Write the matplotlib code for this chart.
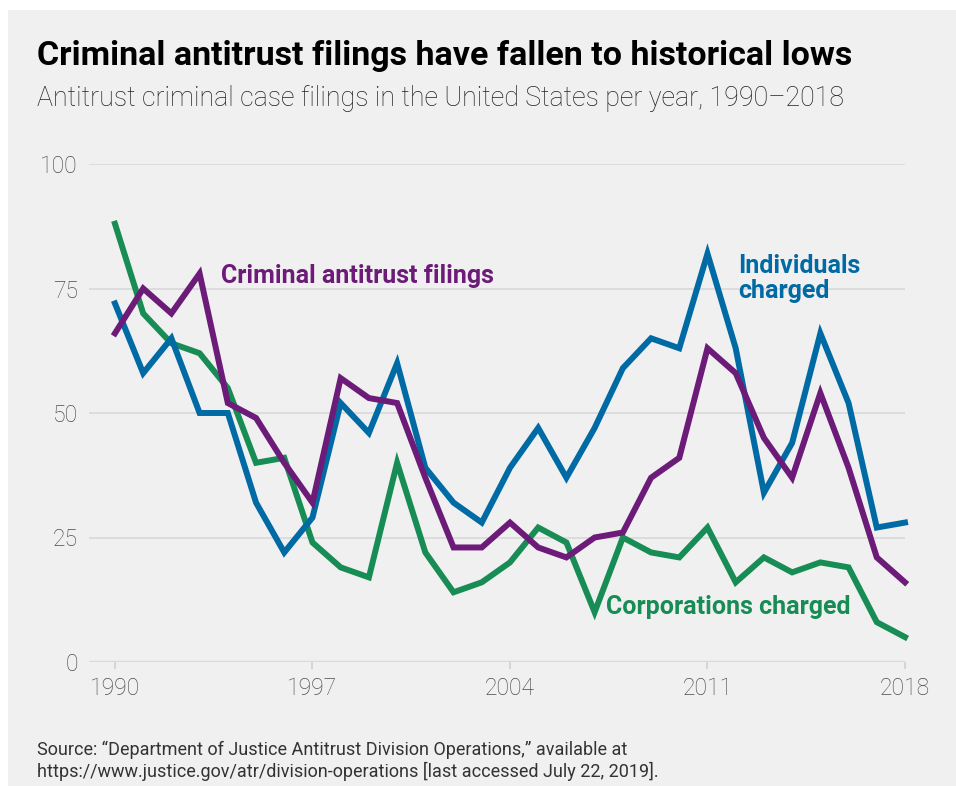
import matplotlib
matplotlib.use("Agg")
import matplotlib.pyplot as plt
from matplotlib.patches import Rectangle

years = list(range(1990, 2019))

individuals = [72, 58, 65, 50, 50, 32, 22, 29, 52, 46, 60, 39, 32, 28, 39, 47, 37, 47,
               59, 65, 63, 82, 63, 34, 44, 66, 52, 27, 28]
filings = [66, 75, 70, 78, 52, 49, 40, 32, 57, 53, 52, 37, 23, 23, 28, 23, 21, 25,
           26, 37, 41, 63, 58, 45, 37, 54, 39, 21, 16]
corporations = [88, 70, 64, 62, 55, 40, 41, 24, 19, 17, 40, 22, 14, 16, 20, 27, 24, 10,
                25, 22, 21, 27, 16, 21, 18, 20, 19, 8, 5]

yticks = [0, 25, 50, 75, 100]
xticks = [1990, 1997, 2004, 2011, 2018]

blue = "#006aa5"
purple = "#6c1b78"
green = "#178c55"
bg = "#f0f0f0"

plt.rcParams['font.family'] = ['Roboto', 'DejaVu Sans']

W, H = 956, 786
fig = plt.figure(figsize=(W / 100, H / 100), dpi=100)
fig.patch.set_facecolor("white")
fig.patches.append(Rectangle((8 / W, 0), 1 - 8 / W, 1 - 10 / H, transform=fig.transFigure,
                             facecolor=bg, edgecolor="none", zorder=-5))

ax = fig.add_axes([89 / W, 1 - 662 / H, (905 - 89) / W, (662 - 164) / H])
ax.set_facecolor("none")
ax.set_xlim(1989.08, 2018)
ax.set_ylim(0, 100)

for s in ax.spines.values():
    s.set_visible(False)

for v in yticks:
    ax.axhline(v, color="#dadada", lw=2.4 if v == 0 else 1.3, zorder=1)

ax.plot(years, corporations, color=green, lw=4.3, solid_joinstyle="miter", clip_on=False, zorder=3)
ax.plot(years, individuals, color=blue, lw=4.3, solid_joinstyle="miter", clip_on=False, zorder=4)
ax.plot(years, filings, color=purple, lw=4.3, solid_joinstyle="miter", clip_on=False, zorder=5)

ax.set_yticks(yticks)
ax.set_xticks(xticks)
ax.tick_params(axis="y", length=0, pad=8, labelsize=16.5, labelcolor="#4d4d4d")
ax.tick_params(axis="x", length=5, width=1.2, color="#d0d0d0", pad=6, labelsize=16.5,
               labelcolor="#4d4d4d")
for lab in ax.get_xticklabels() + ax.get_yticklabels():
    lab.set_fontweight("light")

ax.text(1993.75, 77.5, "Criminal antitrust filings", color=purple, fontsize=18,
        fontweight="bold", va="center", ha="left")
ax.text(2012.1, 77.0, "Individuals\ncharged", color=blue, fontsize=18, fontweight="bold",
        va="center", ha="left", linespacing=1.1)
ax.text(2007.4, 11.0, "Corporations charged", color=green, fontsize=18, fontweight="bold",
        va="center", ha="left")

fig.text(37 / W, 1 - 56 / H, "Criminal antitrust filings have fallen to historical lows",
         fontsize=24.5, fontweight="bold", color="black", va="center", ha="left")
fig.text(37 / W, 1 - 99 / H,
         "Antitrust criminal case filings in the United States per year, 1990\u20132018",
         fontsize=19.3, fontweight="light", color="#222222", va="center", ha="left")
fig.text(37 / W, 1 - 761 / H,
         "Source: \u201cDepartment of Justice Antitrust Division Operations,\u201d available at\n"
         "https://www.justice.gov/atr/division-operations [last accessed July 22, 2019].",
         fontsize=13, color="#333333", va="center", ha="left", linespacing=1.2)

fig.savefig("out.png", dpi=100, facecolor=fig.get_facecolor())
